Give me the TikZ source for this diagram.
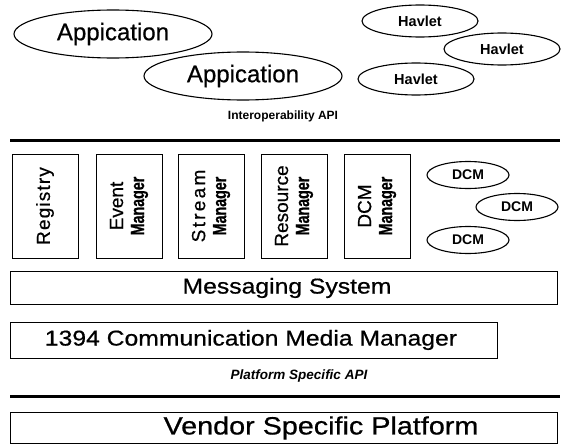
\documentclass[tikz,border=0pt]{standalone}
\usepackage{fontspec}
\usepackage{graphicx}
\setmainfont{Liberation Sans}
\newfontfamily\medium{Liberation Sans}[FakeBold=0.6]
\newfontfamily\heavy{Liberation Sans}[UprightFont=*-Bold, FakeBold=0.8]
\usetikzlibrary{shapes.geometric}
% condensed heavy "Manager" used in the module boxes
\newcommand{\mgr}{\scalebox{0.75}[1]{\heavy Manager}}
% slightly widened text for the layer boxes
\newcommand{\widetext}[1]{\scalebox{1.15}[1]{#1}}
\begin{document}
\begin{tikzpicture}[x=1pt,y=-1pt,
  every node/.style={inner sep=0pt, outer sep=0pt},
  oval/.style={draw, line width=1.1pt, ellipse},
  app/.style={oval, minimum width=198pt, minimum height=48pt, font=\medium\fontsize{24}{28}\selectfont},
  havlet/.style={oval, minimum width=116pt, minimum height=32pt, font=\bfseries\fontsize{14.5}{16}\selectfont},
  dcm/.style={oval, minimum width=82pt, minimum height=27pt, font=\bfseries\fontsize{14}{15}\selectfont},
  layer/.style={draw, line width=1pt, rectangle},
  layertext/.style={font=\medium\fontsize{21.5}{26}\selectfont},
  module/.style={draw, line width=1pt, rotate=90, minimum width=104pt, minimum height=66pt,
    align=center, font=\medium\fontsize{19}{21}\selectfont},
  api/.style={font=\bfseries\fontsize{12}{14}\selectfont},
  sep/.style={line width=3pt},
]
\useasboundingbox (0,0) rectangle (564,444);

% applications and havlets
\node[app] (app1) at (113,34) {Appication};
\node[app] (app2) at (243,76) {Appication};
\node[havlet] (hav1) at (420,21) {Havlet};
\node[havlet] (hav2) at (502,49) {Havlet};
\node[havlet] (hav3) at (416,79) {Havlet};

% interoperability API
\node[api] (iapi) at (283,116) {Interoperability API};
\coordinate (iapiL) at (10,140);
\coordinate (iapiR) at (560,140);
\draw[sep] (iapiL) -- (iapiR);

% middleware modules
\node[module] (reg) at (45,206) {\addfontfeature{LetterSpace=6}Registry};
\node[module] (evt) at (129,206) {Event\\\mgr};
\node[module] (str) at (211,206) {\addfontfeature{LetterSpace=12}Stream\\\mgr};
\node[module] (res) at (294,206) {Resource\\\mgr};
\node[module] (dcmm) at (377,206) {DCM\\\mgr};

\node[dcm] (dcm1) at (468,175) {DCM};
\node[dcm] (dcm2) at (517,207) {DCM};
\node[dcm] (dcm3) at (468,240) {DCM};

% lower layers
\node[layer, minimum width=547pt, minimum height=33pt] (msg) at (283.5,287.5) {};
\node[layertext] (msgt) at (287,288) {\widetext{Messaging System}};
\node[layer, minimum width=487pt, minimum height=36pt] (cmm) at (253.5,340) {};
\node[layertext] (cmmt) at (251,340) {\widetext{1394 Communication Media Manager}};

\node[api, font=\bfseries\itshape\fontsize{13.5}{15}\selectfont] (papi) at (299,376) {Platform Specific API};
\coordinate (papiL) at (10,396);
\coordinate (papiR) at (560,396);
\draw[sep] (papiL) -- (papiR);

\node[layer, minimum width=547pt, minimum height=31pt] (vsp) at (283.5,427.5) {};
\node[layertext, font=\medium\fontsize{25}{30}\selectfont] (vspt) at (321,428) {\widetext{Vendor Specific Platform}};
\end{tikzpicture}
\end{document}
